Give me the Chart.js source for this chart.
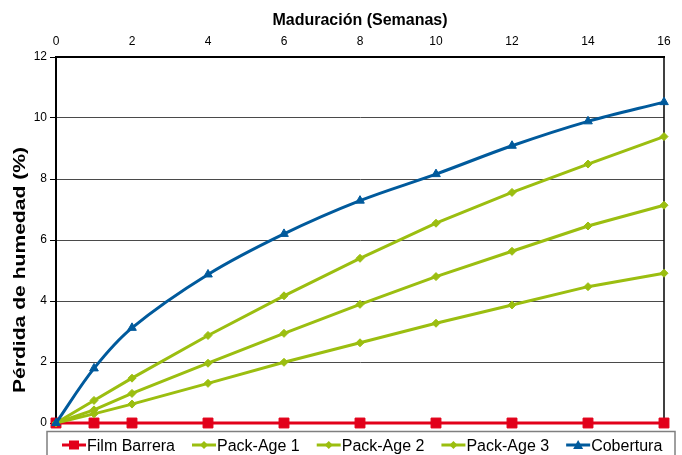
<!DOCTYPE html>
<html>
<head>
<meta charset="utf-8">
<script src="https://cdn.jsdelivr.net/npm/chart.js@4.4.1/dist/chart.umd.min.js"></script>
<style>
  html, body { margin: 0; padding: 0; background: #fff; }
  #wrap { width: 682px; height: 455px; position: relative; }
</style>
</head>
<body>
<div id="wrap"><canvas id="chart"></canvas></div>
<script>
// ---- data ----
const semanas     = [0, 1, 2, 4, 6, 8, 10, 12, 14, 16];
const filmBarrera = [0, 0, 0, 0, 0, 0, 0, 0, 0, 0];
const packAge1    = [0, 0.74, 1.47, 2.87, 4.17, 5.40, 6.55, 7.56, 8.49, 9.39];
const packAge2    = [0, 0.43, 0.97, 1.96, 2.94, 3.89, 4.80, 5.63, 6.46, 7.14];
const packAge3    = [0, 0.30, 0.62, 1.30, 1.99, 2.63, 3.27, 3.87, 4.47, 4.91];
const cobertura   = [0, 1.79, 3.12, 4.87, 6.20, 7.29, 8.16, 9.09, 9.89, 10.52];
const seriesNames = ['Film Barrera', 'Pack-Age 1', 'Pack-Age 2', 'Pack-Age 3', 'Cobertura'];
const xTitle = 'Maduración (Semanas)';
const yTitle = 'Pérdida de humedad (%)';

const RED = '#E2001A', GREEN = '#9BBE10', BLUE = '#005A9C';
const FONT = "'Liberation Sans', Arial, sans-serif";
Chart.defaults.font.family = FONT;
Chart.defaults.color = '#000';

const pts = vals => vals.map((v, i) => ({ x: semanas[i], y: v }));

function serie(label, vals, color, style, radius, extra) {
  return Object.assign({
    label, data: pts(vals),
    borderColor: color, backgroundColor: color, borderWidth: 3,
    pointStyle: style, pointRadius: radius, pointHoverRadius: radius,
    pointBackgroundColor: color, pointBorderColor: color, pointBorderWidth: 1,
    tension: 0, fill: false, clip: false
  }, extra || {});
}

// small legend marker shapes
function marker(ctx, style, x, y, color) {
  ctx.fillStyle = color;
  ctx.beginPath();
  if (style === 'rect') { ctx.rect(x - 5, y - 4.5, 10, 9); }
  else if (style === 'rectRot') { ctx.moveTo(x, y - 4); ctx.lineTo(x + 4, y); ctx.lineTo(x, y + 4); ctx.lineTo(x - 4, y); }
  else { ctx.moveTo(x, y - 5); ctx.lineTo(x + 5, y + 4); ctx.lineTo(x - 5, y + 4); }
  ctx.closePath(); ctx.fill();
}

const decor = {
  id: 'decor',
  beforeDatasetsDraw(chart) {
    const { ctx, chartArea: a } = chart;
    // right frame line
    ctx.save();
    ctx.strokeStyle = '#000'; ctx.lineWidth = 1.5;
    ctx.beginPath(); ctx.moveTo(a.right, a.top); ctx.lineTo(a.right, a.bottom); ctx.stroke();
    ctx.restore();
  },
  afterDraw(chart) {
    const { ctx } = chart;
    // y title (stretched like the reference)
    ctx.save();
    ctx.translate(20, 270); ctx.rotate(-Math.PI / 2);
    ctx.font = 'bold 17px ' + FONT;
    const w = ctx.measureText(yTitle).width;
    ctx.scale(246 / w, 1);
    ctx.fillStyle = '#000'; ctx.textAlign = 'center'; ctx.textBaseline = 'middle';
    ctx.fillText(yTitle, 0, 0);
    ctx.restore();

    // legend box
    ctx.save();
    ctx.strokeStyle = '#7f7f7f'; ctx.lineWidth = 1.5;
    ctx.strokeRect(47, 431.5, 628, 40);
    ctx.font = '16px ' + FONT; ctx.textBaseline = 'alphabetic'; ctx.textAlign = 'left';
    let x = 62;
    const ly = 445;
    chart.data.datasets.forEach(ds => {
      ctx.strokeStyle = ds.borderColor; ctx.lineWidth = 3;
      ctx.beginPath(); ctx.moveTo(x, ly); ctx.lineTo(x + 24, ly); ctx.stroke();
      marker(ctx, ds.pointStyle, x + 12, ly, ds.borderColor);
      ctx.fillStyle = '#000';
      ctx.fillText(ds.label, x + 25, 451);
      x += 25 + ctx.measureText(ds.label).width + 17;
    });
    ctx.restore();
  }
};

new Chart(document.getElementById('chart'), {
  type: 'line',
  data: {
    datasets: [
      serie(seriesNames[0], filmBarrera, RED, 'rect', 7, { order: 4 }),
      serie(seriesNames[1], packAge1, GREEN, 'rectRot', 4, { order: 3 }),
      serie(seriesNames[2], packAge2, GREEN, 'rectRot', 4, { order: 2 }),
      serie(seriesNames[3], packAge3, GREEN, 'rectRot', 4, { order: 1 }),
      serie(seriesNames[4], cobertura, BLUE, 'triangle', 5, { order: 0, tension: 0.35 })
    ]
  },
  options: {
    responsive: true, maintainAspectRatio: false, animation: false,
    layout: { padding: { left: 0, right: 18, top: 0, bottom: 32 } },
    plugins: { legend: { display: false }, tooltip: { enabled: false } },
    scales: {
      x: {
        type: 'linear', position: 'top', min: 0, max: 16,
        ticks: { stepSize: 2, font: { size: 12 }, padding: 8, maxRotation: 0 },
        grid: { display: false, drawTicks: false },
        border: { display: true, color: '#000', width: 2 },
        title: { display: true, text: xTitle, font: { size: 16, weight: 'bold' }, padding: { top: 11, bottom: 2 } },
        afterFit: s => { s.height = 57; }
      },
      y: {
        min: 0, max: 12,
        ticks: { stepSize: 2, font: { size: 12 }, padding: 3 },
        grid: { color: '#4a4a4a', lineWidth: 1, tickLength: 6, tickColor: '#000' },
        border: { display: true, color: '#000', width: 2 },
        afterFit: s => { s.width = 56; }
      }
    }
  },
  plugins: [decor]
});
</script>
</body>
</html>
